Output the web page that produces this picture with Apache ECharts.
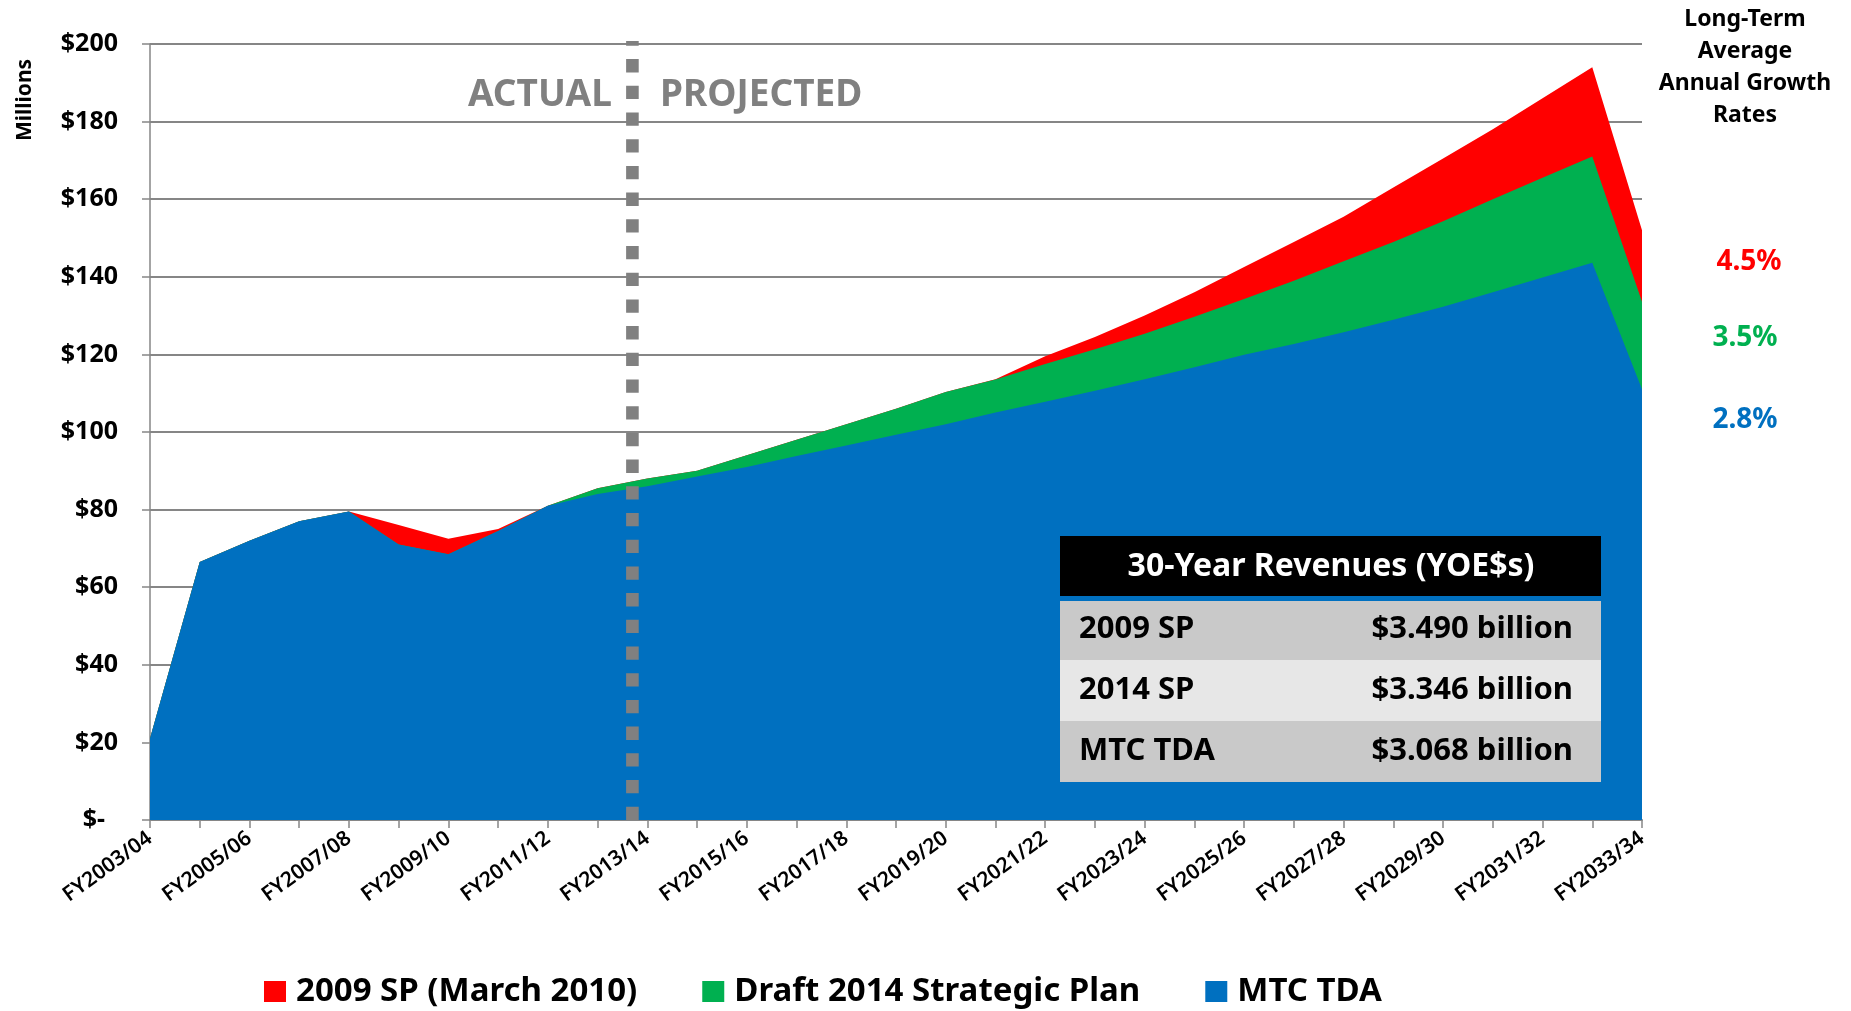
<!DOCTYPE html>
<html>
<head>
<meta charset="utf-8">
<title>TDA revenue projection</title>
<script src="https://cdn.jsdelivr.net/npm/echarts@6/dist/echarts.min.js"></script>
<style>
  html, body { margin: 0; padding: 0; background: #fff; overflow: hidden; }
  #chart { width: 1851px; height: 1011px; }
</style>
</head>
<body>
<div id="chart"></div>
<script>
var categories = ['FY2003/04', 'FY2004/05', 'FY2005/06', 'FY2006/07', 'FY2007/08', 'FY2008/09', 'FY2009/10', 'FY2010/11',
  'FY2011/12', 'FY2012/13', 'FY2013/14', 'FY2014/15', 'FY2015/16', 'FY2016/17', 'FY2017/18', 'FY2018/19', 'FY2019/20',
  'FY2020/21', 'FY2021/22', 'FY2022/23', 'FY2023/24', 'FY2024/25', 'FY2025/26', 'FY2026/27', 'FY2027/28', 'FY2028/29',
  'FY2029/30', 'FY2030/31', 'FY2031/32', 'FY2032/33', 'FY2033/34']
var sp2009 = [21, 66.5, 72, 77, 79.5, 76, 72.5, 75, 81, 85.5, 88, 90, 94, 98, 102, 106, 110.3,
  113.6, 119.5, 124.5, 130, 136, 142.5, 149, 155.5, 163, 170.5, 178, 186, 194, 152]
var draft2014 = [21, 66.5, 72, 77, 79.5, 71, 68.5, 74.5, 81, 85.5, 88, 90, 94, 98, 102, 106, 110.3,
  113.5, 117.5, 121.3, 125.3, 129.7, 134.3, 139, 144, 149, 154.3, 160, 165.5, 171, 133.6]
var mtcTda = [21, 66.5, 72, 77, 79.5, 71, 68.5, 74.5, 81, 84, 86, 88.5, 91, 93.8, 96.5, 99.3, 102,
  105, 107.8, 110.6, 113.6, 116.7, 119.9, 122.7, 125.7, 128.9, 132.3, 136, 139.8, 143.6, 111]
var dividerX = [9.7, 9.7]
var dividerY = [0, 200.8]
var growthHeading = ['Long-Term', 'Average', 'Annual Growth', 'Rates']
var growthRates = ['4.5%', '3.5%', '2.8%']
var tableTitle = '30-Year Revenues (YOE$s)'
var tableNames = ['2009 SP', '2014 SP', 'MTC TDA']
var tableValues = ['$3.490 billion', '$3.346 billion', '$3.068 billion']

var FONT = '"Noto Sans", sans-serif'
var BLUE = '#0070C0'
var GREEN = '#00B050'
var RED = '#FF0000'
var GREY = '#868686'

function txt(x, y, text, size, color, align, weight) {
  return {
    type: 'text', x: x, y: y, z: 20,
    style: { text: text, fontFamily: FONT, fontSize: size, fontWeight: weight || 700, fill: color, align: align || 'left', verticalAlign: 'middle' }
  }
}
function box(x, y, w, h, color) {
  return { type: 'rect', z: 19, shape: { x: x, y: y, width: w, height: h }, style: { fill: color } }
}

function areaSeries(name, data, color) {
  return {
    name: name, type: 'line', data: data, showSymbol: false, symbol: 'none',
    itemStyle: { color: color },
    lineStyle: { width: 0 },
    areaStyle: { color: color, opacity: 1 },
    silent: true
  }
}

var graphics = [
  txt(468, 95, 'ACTUAL', 37, '#808080'),
  txt(660, 95, 'PROJECTED', 37, '#808080'),
  { type: 'text', x: 25, y: 100, rotation: Math.PI / 2, z: 20,
    style: { text: 'Millions', fontFamily: FONT, fontSize: 21, fontWeight: 700, fill: '#000', align: 'center', verticalAlign: 'middle' } },
  box(1060, 536, 541, 60, '#000'),
  box(1060, 601, 541, 59, '#C9C9C9'),
  box(1060, 660, 541, 61, '#E7E7E7'),
  box(1060, 721, 541, 61, '#C9C9C9'),
  txt(1331, 567, tableTitle, 32, '#fff', 'center')
]
growthHeading.forEach(function(line, i) {
  graphics.push(txt(1745, 19 + i * 32, line, 23, '#000', 'center'))
})
var rateColors = [RED, GREEN, BLUE]
var rateX = [1749, 1745, 1745]
var rateY = [262, 338, 420]
growthRates.forEach(function(rate, i) {
  graphics.push(txt(rateX[i], rateY[i], rate, 28, rateColors[i], 'center'))
})
var rowY = [629, 690, 751]
tableNames.forEach(function(name, i) {
  graphics.push(txt(1079, rowY[i], name, 31, '#000'))
  graphics.push(txt(1573, rowY[i], tableValues[i], 31, '#000', 'right'))
})

var option = {
  animation: false,
  backgroundColor: '#fff',
  textStyle: { fontFamily: FONT },
  legend: {
    left: 259, top: 970, itemWidth: 22, itemHeight: 21, itemGap: 65, icon: 'rect',
    data: ['2009 SP (March 2010)', 'Draft 2014 Strategic Plan', 'MTC TDA'],
    textStyle: { fontFamily: FONT, fontSize: 33, fontWeight: 700, color: '#000', padding: [0, 0, 0, 5] }
  },
  grid: { left: 150, right: 209, top: 44, bottom: 191 },
  xAxis: [{
    type: 'category', data: categories, boundaryGap: false,
    axisLine: { lineStyle: { color: GREY, width: 2 } },
    axisTick: { show: true, interval: 0, length: 8, lineStyle: { color: GREY, width: 1.5 } },
    axisLabel: { interval: 1, rotate: 36, margin: 16, fontFamily: FONT, fontSize: 21, fontWeight: 600, color: '#000' },
    splitLine: { show: false }
  }, {
    type: 'value', min: 0, max: 30, show: false
  }],
  yAxis: {
    type: 'value', min: 0, max: 200, interval: 20,
    axisLine: { show: true, lineStyle: { color: GREY, width: 1.5 } },
    axisTick: { show: true, length: 8, lineStyle: { color: GREY, width: 1.5 } },
    axisLabel: {
      margin: 32, fontFamily: FONT, fontSize: 25, fontWeight: 700, color: '#000',
      formatter: function(v) { return v === 0 ? '$-  ' : '$' + v }
    },
    splitLine: { show: true, lineStyle: { color: GREY, width: 2 } }
  },
  graphic: graphics,
  series: [
    areaSeries('2009 SP (March 2010)', sp2009, RED),
    areaSeries('Draft 2014 Strategic Plan', draft2014, GREEN),
    areaSeries('MTC TDA', mtcTda, BLUE),
    {
      name: 'divider', type: 'line', xAxisIndex: 1, z: 10, clip: false,
      data: dividerX.map(function(x, i) { return [x, dividerY[i]] }),
      showSymbol: false, symbol: 'none', silent: true,
      lineStyle: { color: '#808080', width: 12.6, type: [13.3, 13.4], cap: 'butt' }
    }
  ]
}

var chart = echarts.init(document.getElementById('chart'))
chart.setOption(option)
</script>
</body>
</html>
